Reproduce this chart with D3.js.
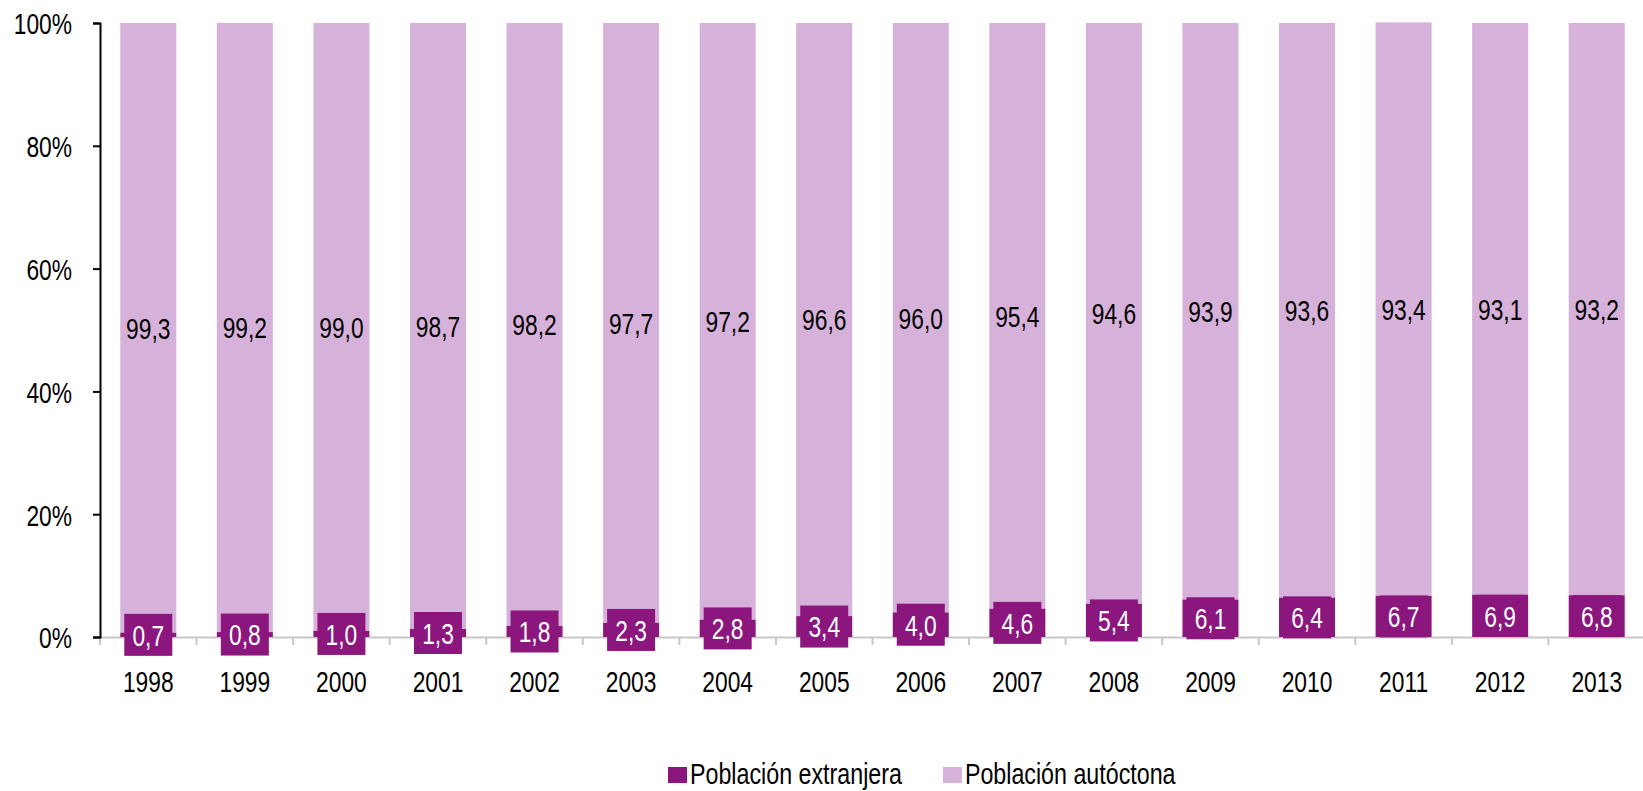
<!DOCTYPE html>
<html>
<head>
<meta charset="utf-8">
<script src="https://cdn.jsdelivr.net/npm/d3@7"></script>
<style>
  body { margin: 0; background: #fff; }
  svg text { font-family: "Liberation Sans", Arial, sans-serif; }
</style>
</head>
<body>
<svg id="chart"></svg>
<script>
// Data
const years = ['1998', '1999', '2000', '2001', '2002', '2003', '2004', '2005',
  '2006', '2007', '2008', '2009', '2010', '2011', '2012', '2013'];
const extranjera = [0.7, 0.8, 1.0, 1.3, 1.8, 2.3, 2.8, 3.4, 4.0, 4.6, 5.4, 6.1, 6.4, 6.7, 6.9, 6.8];
const autoctona = [99.3, 99.2, 99.0, 98.7, 98.2, 97.7, 97.2, 96.6, 96.0, 95.4, 94.6, 93.9, 93.6, 93.4, 93.1, 93.2];
const yTicks = [0, 20, 40, 60, 80, 100];

const color = { dark: '#8b177e', light: '#d6b2da', axis: '#c8c8c8' };

const W = 1643;
const H = 791;
const padding = { top: 23, left: 100, right: -2, bottom: 154 };
const width = W - padding.left - padding.right;
const height = H - padding.top - padding.bottom;

// the original font is a narrow one: squeeze text horizontally
const fontSize = 30;
const sx = 0.76;

const svg = d3.select('#chart').attr('width', W).attr('height', H);
const canvas = svg.append('g').attr('transform', `translate(${padding.left},${padding.top})`);

const x = d3.scaleBand().domain(years).range([0, width]).paddingInner(0.42).paddingOuter(0.21);
const y = d3.scaleLinear().domain([0, 100]).range([height, 0]);

const fmt = (v) => d3.format('.1f')(v).replace('.', ',');

const rows = years.map((yr, i) => ({ year: yr, ext: extranjera[i], aut: autoctona[i] }));

// x axis (grey)
const xAxis = canvas.append('g')
  .attr('transform', `translate(0,${height})`)
  .call(d3.axisBottom(x).tickSize(0));
xAxis.select('.domain').attr('stroke', color.axis).attr('stroke-width', 2);
xAxis.selectAll('text')
  .attr('font-size', fontSize)
  .attr('fill', '#000')
  .attr('y', 55)
  .attr('dy', null)
  .attr('transform', `scale(${sx},1)`);
xAxis.selectAll('.sep')
  .data(d3.range(years.length + 1))
  .join('line')
  .attr('class', 'sep')
  .attr('x1', (i) => i * x.step())
  .attr('x2', (i) => i * x.step())
  .attr('y1', 0)
  .attr('y2', 8)
  .attr('stroke', color.axis)
  .attr('stroke-width', 2);

// bars
const bar = canvas.append('g').selectAll('g.bar')
  .data(rows)
  .join('g')
  .attr('class', 'bar')
  .attr('transform', (d) => `translate(${x(d.year)},0)`);

bar.append('rect')
  .attr('x', 0)
  .attr('width', x.bandwidth())
  .attr('y', (d) => y(d.ext + d.aut))
  .attr('height', (d) => y(d.ext) - y(d.ext + d.aut))
  .attr('fill', color.light);

bar.append('rect')
  .attr('x', 0)
  .attr('width', x.bandwidth())
  .attr('y', (d) => y(d.ext))
  .attr('height', (d) => y(0) - y(d.ext))
  .attr('fill', color.dark);

// light labels
bar.append('text')
  .attr('transform', (d) => `translate(${x.bandwidth() / 2},${(y(d.ext) + y(d.ext + d.aut)) / 2}) scale(${sx},1)`)
  .attr('dy', '0.36em')
  .attr('text-anchor', 'middle')
  .attr('font-size', fontSize)
  .attr('fill', '#000')
  .text((d) => fmt(d.aut));

// dark labels with box
const boxW = 48;
const boxH = 42;
bar.append('rect')
  .attr('x', x.bandwidth() / 2 - boxW / 2)
  .attr('y', (d) => (y(d.ext) + y(0)) / 2 - boxH / 2)
  .attr('width', boxW)
  .attr('height', boxH)
  .attr('fill', color.dark);

bar.append('text')
  .attr('transform', (d) => `translate(${x.bandwidth() / 2},${(y(d.ext) + y(0)) / 2}) scale(${sx},1)`)
  .attr('dy', '0.36em')
  .attr('text-anchor', 'middle')
  .attr('font-size', fontSize)
  .attr('fill', '#fff')
  .text((d) => fmt(d.ext));

// y axis
const yAxis = canvas.append('g')
  .call(d3.axisLeft(y).tickValues(yTicks).tickSize(7).tickSizeOuter(7).tickFormat((d) => d + '%'));
yAxis.select('.domain').attr('stroke', '#000').attr('stroke-width', 2);
yAxis.selectAll('.tick line').attr('stroke', '#000').attr('stroke-width', 2);
yAxis.selectAll('text')
  .attr('font-size', fontSize)
  .attr('fill', '#000')
  .attr('x', null)
  .attr('dy', '0.36em')
  .attr('transform', `translate(-28,0) scale(${sx},1)`);

// legend
const legendItems = [
  { label: 'Población extranjera', color: color.dark },
  { label: 'Población autóctona', color: color.light },
];
const legendSx = 0.775;
const legend = svg.append('g').attr('transform', 'translate(668,767)');
let lx = 0;
legendItems.forEach((item) => {
  const g = legend.append('g').attr('transform', `translate(${lx},0)`);
  g.append('rect').attr('width', 19).attr('height', 16).attr('fill', item.color);
  const t = g.append('text')
    .attr('transform', `translate(22,17) scale(${legendSx},1)`)
    .attr('font-size', fontSize)
    .attr('fill', '#000')
    .text(item.label);
  lx += 22 + t.node().getComputedTextLength() * legendSx + 41;
});
</script>
</body>
</html>
